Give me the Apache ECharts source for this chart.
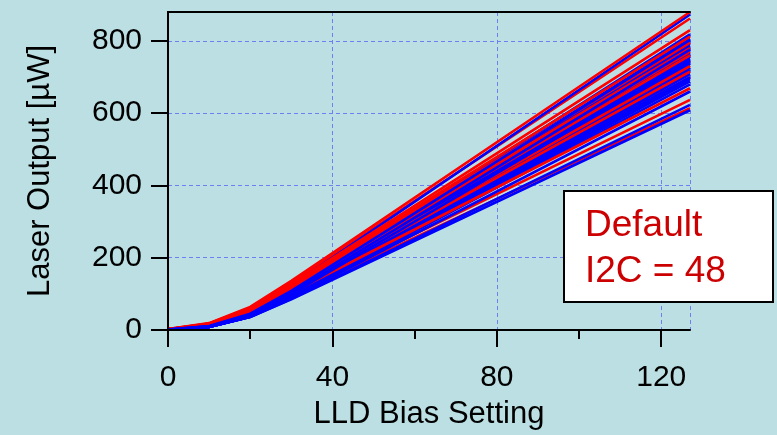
<!DOCTYPE html>
<html>
<head>
<meta charset="utf-8">
<script src="https://cdn.jsdelivr.net/npm/echarts@6/dist/echarts.min.js"></script>
<style>
html,body{margin:0;padding:0;background:#bbdfe2;}
#chart{width:777px;height:435px;}
</style>
</head>
<body>
<div id="chart"></div>
<script>
// LLD bias settings where each curve was sampled
var biasSettings = [0, 10, 20, 30, 127];

// Laser output [µW] per curve, red family (drawn beneath the blue family)
var redCurves = [
  [3, 18, 62, 131, 862],
  [2, 14, 54, 114, 745],
  [2, 13, 51, 107, 700],
  [2, 12, 47, 99, 637],
  [2, 11, 45, 95, 614]
];

// Laser output [µW] per curve, blue family
var blueCurves = [
  [1, 14, 52, 123, 873],
  [1, 12, 47, 113, 818],
  [1, 12, 46, 111, 806],
  [1, 12, 45, 109, 800],
  [1, 11, 45, 108, 792],
  [1, 11, 44, 106, 786],
  [1, 11, 44, 105, 780],
  [1, 11, 43, 104, 774],
  [1, 10, 43, 103, 768],
  [1, 10, 42, 102, 762],
  [1, 10, 42, 101, 756],
  [1, 10, 41, 100, 750],
  [1, 10, 41, 99, 744],
  [1, 10, 40, 98, 738],
  [1, 9, 40, 97, 732],
  [1, 9, 40, 96, 726],
  [1, 9, 39, 95, 720],
  [1, 9, 39, 94, 714],
  [1, 9, 38, 93, 708],
  [1, 9, 38, 92, 700],
  [1, 8, 38, 92, 694],
  [1, 8, 37, 91, 688],
  [1, 8, 37, 90, 680],
  [1, 8, 37, 89, 660],
  [1, 8, 36, 86, 623],
  [1, 8, 36, 85, 608]
];

// red curves drawn on top of the blue family
var redTopCurves = [
  [3, 19, 64, 136, 880],
  [2, 17, 60, 126, 830],
  [2, 17, 59, 124, 812],
  [2, 16, 58, 122, 795],
  [2, 16, 57, 120, 780],
  [2, 15, 56, 118, 770],
  [2, 15, 55, 116, 760],
  [2, 14, 53, 111, 730],
  [2, 13, 52, 109, 715],
  [2, 12, 49, 103, 669]
];

// a few blue curves drawn last
var blueTopCurves = [
  [1, 11, 45, 108, 803],
  [1, 10, 43, 103, 776],
  [1, 10, 41, 99, 748]
];

var xMajorTicks = [0, 40, 80, 120];
var xMinorTicks = [20, 60, 100];
var yMajorTicks = [0, 200, 400, 600, 800];
var annotationText = 'Default\nI2C = 48';

var X_MIN = 0, X_MAX = 127, Y_MIN = 0, Y_MAX = 880;
var FONT = '"Liberation Sans", Arial, sans-serif';
var RED = '#ff0000', BLUE = '#0000ff';

function toPoints(curve) {
  return biasSettings.map(function (x, i) { return [x, curve[i]]; });
}
function makeSeries(curve, color) {
  return {
    type: 'line', data: toPoints(curve), showSymbol: false, symbol: 'none',
    lineStyle: { color: color, width: 2.6 }, xAxisIndex: 0, yAxisIndex: 0, z: 2
  };
}

var series = [];
redCurves.forEach(function (c) { series.push(makeSeries(c, RED)); });
blueCurves.forEach(function (c) { series.push(makeSeries(c, BLUE)); });
redTopCurves.forEach(function (c) { series.push(makeSeries(c, RED)); });
blueTopCurves.forEach(function (c) { series.push(makeSeries(c, BLUE)); });

var hidden = { show: false };
var blackLine = { show: true, lineStyle: { color: '#000', width: 2 } };
var gridDash = { show: true, lineStyle: { color: '#6f7ff2', width: 1, type: [4, 3] } };

var chart = echarts.init(document.getElementById('chart'), null, { renderer: 'canvas' });
chart.setOption({
  animation: false,
  backgroundColor: '#bbdfe2',
  grid: { left: 168, top: 12, right: 87, bottom: 105, show: false },
  xAxis: [
    { type: 'value', min: X_MIN, max: X_MAX, interval: 40, position: 'bottom', z: 0,
      axisLine: hidden, axisTick: hidden, axisLabel: hidden, splitLine: gridDash },
    { type: 'value', min: X_MIN, max: X_MAX, interval: 40, position: 'bottom', z: 5,
      axisLine: blackLine,
      axisTick: { show: true, inside: false, length: 17, customValues: xMajorTicks, lineStyle: { color: '#000', width: 2 } },
      axisLabel: { show: true, margin: 33, customValues: xMajorTicks, color: '#000', fontSize: 30, fontFamily: FONT },
      splitLine: hidden,
      name: 'LLD Bias Setting', nameLocation: 'middle', nameGap: 69,
      nameTextStyle: { color: '#000', fontSize: 31, fontFamily: FONT } },
    { type: 'value', min: X_MIN, max: X_MAX, interval: 40, position: 'bottom', z: 5,
      axisLine: hidden,
      axisTick: { show: true, inside: false, length: 9, customValues: xMinorTicks, lineStyle: { color: '#000', width: 2 } },
      axisLabel: hidden, splitLine: hidden },
    { type: 'value', min: X_MIN, max: X_MAX, interval: 40, position: 'top', z: 5,
      axisLine: blackLine, axisTick: hidden, axisLabel: hidden, splitLine: hidden }
  ],
  yAxis: [
    { type: 'value', min: Y_MIN, max: Y_MAX, interval: 200, position: 'left', z: 0,
      axisLine: hidden, axisTick: hidden, axisLabel: hidden, splitLine: gridDash },
    { type: 'value', min: Y_MIN, max: Y_MAX, interval: 200, position: 'left', z: 5,
      axisLine: blackLine,
      axisTick: { show: true, inside: false, length: 17, customValues: yMajorTicks, lineStyle: { color: '#000', width: 2 } },
      axisLabel: { show: true, margin: 26, customValues: yMajorTicks, color: '#000', fontSize: 30, fontFamily: FONT },
      splitLine: hidden,
      name: 'Laser Output [µW]', nameLocation: 'middle', nameGap: 112,
      nameTextStyle: { color: '#000', fontSize: 31, fontFamily: FONT } },
    { type: 'value', min: Y_MIN, max: Y_MAX, interval: 200, position: 'right', z: 5,
      axisLine: blackLine, axisTick: hidden, axisLabel: hidden, splitLine: hidden }
  ],
  graphic: [
    { type: 'rect', left: 563, top: 190, z: 10,
      shape: { width: 209, height: 111 },
      style: { fill: '#ffffff', stroke: '#000000', lineWidth: 2 } },
    { type: 'text', left: 585, top: 203, z: 11,
      style: { text: annotationText, fill: '#cc0000', font: '37px ' + FONT, lineHeight: 46 } }
  ],
  series: series
});
</script>
</body>
</html>
